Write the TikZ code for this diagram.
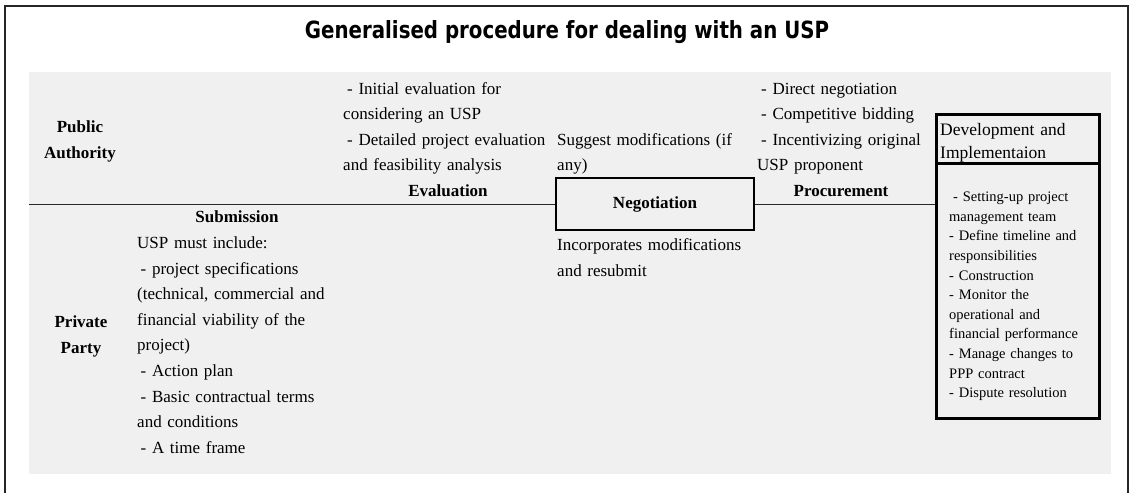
\documentclass[tikz,border=0pt]{standalone}
\usepackage{fontspec}
\setmainfont{Liberation Serif}
\newfontfamily\titlefont{DejaVu Sans}
\usepackage{graphicx}
\definecolor{bgpanel}{RGB}{240,240,240}
\definecolor{linecol}{RGB}{40,40,40}
\begin{document}
\begin{tikzpicture}[x=1pt,y=-1pt,
  body/.style={anchor=base west, inner sep=0pt, align=left, text width=#1, font=\fontsize{17}{25.6}\selectfont},
  body/.default=260pt,
  smallbody/.style={anchor=base west, inner sep=0pt, align=left, text width=150pt, font=\fontsize{14.5}{19.6}\selectfont},
  lab/.style={anchor=base, inner sep=0pt, font=\fontsize{17}{20}\selectfont\bfseries},
  party/.style={anchor=base, inner sep=0pt, align=center, text width=100pt, font=\fontsize{17}{25.5}\selectfont\bfseries},
  conn/.style={draw=linecol, line width=1pt},
  frame/.style={draw=black!85, line width=1.8pt},
  negbox/.style={draw=black, line width=1.2pt, minimum width=198pt, minimum height=52pt, inner sep=0pt, font=\fontsize{17}{20}\selectfont\bfseries},
  devbox/.style={draw=black, line width=2.6pt, minimum width=163pt, inner sep=0pt, anchor=north west}
]
\useasboundingbox (0,0) rectangle (1131,493);
% outer frame and panel
\draw[frame] (5,493) -- (5,6) -- (1128,6) -- (1128,493);
\fill[bgpanel] (29,72) rectangle (1111,474);

% title
\node[inner sep=0pt, anchor=base] (title) at (567,38)
  {\resizebox{524pt}{18pt}{\titlefont\bfseries Generalised procedure for dealing with an USP}};

% parties
\node[party] (pub) at (80,132.5) {Public\\Authority};
\node[party] (priv) at (81,327.5) {Private\\Party};

% boxes
\node[negbox] (neg) at (655,204) {Negotiation};
\node[devbox, minimum height=49pt] (devhead) at (935,113) {};
\node[devbox, minimum height=255pt] (devbody) at (935,162) {};

% connectors
\coordinate (lstart) at (29,204);
\draw[conn] (lstart) -- (neg.west);
\draw[conn] (neg.east) -- (neg.east -| devbody.west);

% submission
\node[lab] (sublab) at (237,222.5) {Submission};
\node[body] (subtxt) at (137,248.5) {USP must include:\\
\hspace*{3.5pt}- project specifications\\
(technical, commercial and\\
financial viability of the\\
project)\\
\hspace*{3.5pt}- Action plan\\
\hspace*{3.5pt}- Basic contractual terms\\
and conditions\\
\hspace*{3.5pt}- A time frame};

% evaluation
\node[body] (evtxt) at (343,94) {\hspace*{4pt}- Initial evaluation for\\
considering an USP\\
\hspace*{4pt}- Detailed project evaluation\\
and feasibility analysis};
\node[lab] (evlab) at (448,196.5) {Evaluation};

% negotiation texts
\node[body] (suggest) at (557,145.2) {Suggest modifications (if\\any)};
\node[body] (incorp) at (557,250.5) {Incorporates modifications\\and resubmit};

% procurement
\node[body] (proctxt) at (757,94) {\hspace*{4pt}- Direct negotiation\\
\hspace*{4pt}- Competitive bidding\\
\hspace*{4pt}- Incentivizing original\\
USP proponent};
\node[lab] (proclab) at (841,196.5) {Procurement};

% development
\node[body=150pt, font=\fontsize{17.5}{23}\selectfont] (devtitle) at (940,135.5) {Development and\\Implementaion};
\node[smallbody] (devtxt) at (949,201.7) {\hspace*{4pt}- Setting-up project\\
management team\\
- Define timeline and\\
responsibilities\\
- Construction\\
- Monitor the\\
operational and\\
financial performance\\
- Manage changes to\\
PPP contract\\
- Dispute resolution};
\end{tikzpicture}
\end{document}
